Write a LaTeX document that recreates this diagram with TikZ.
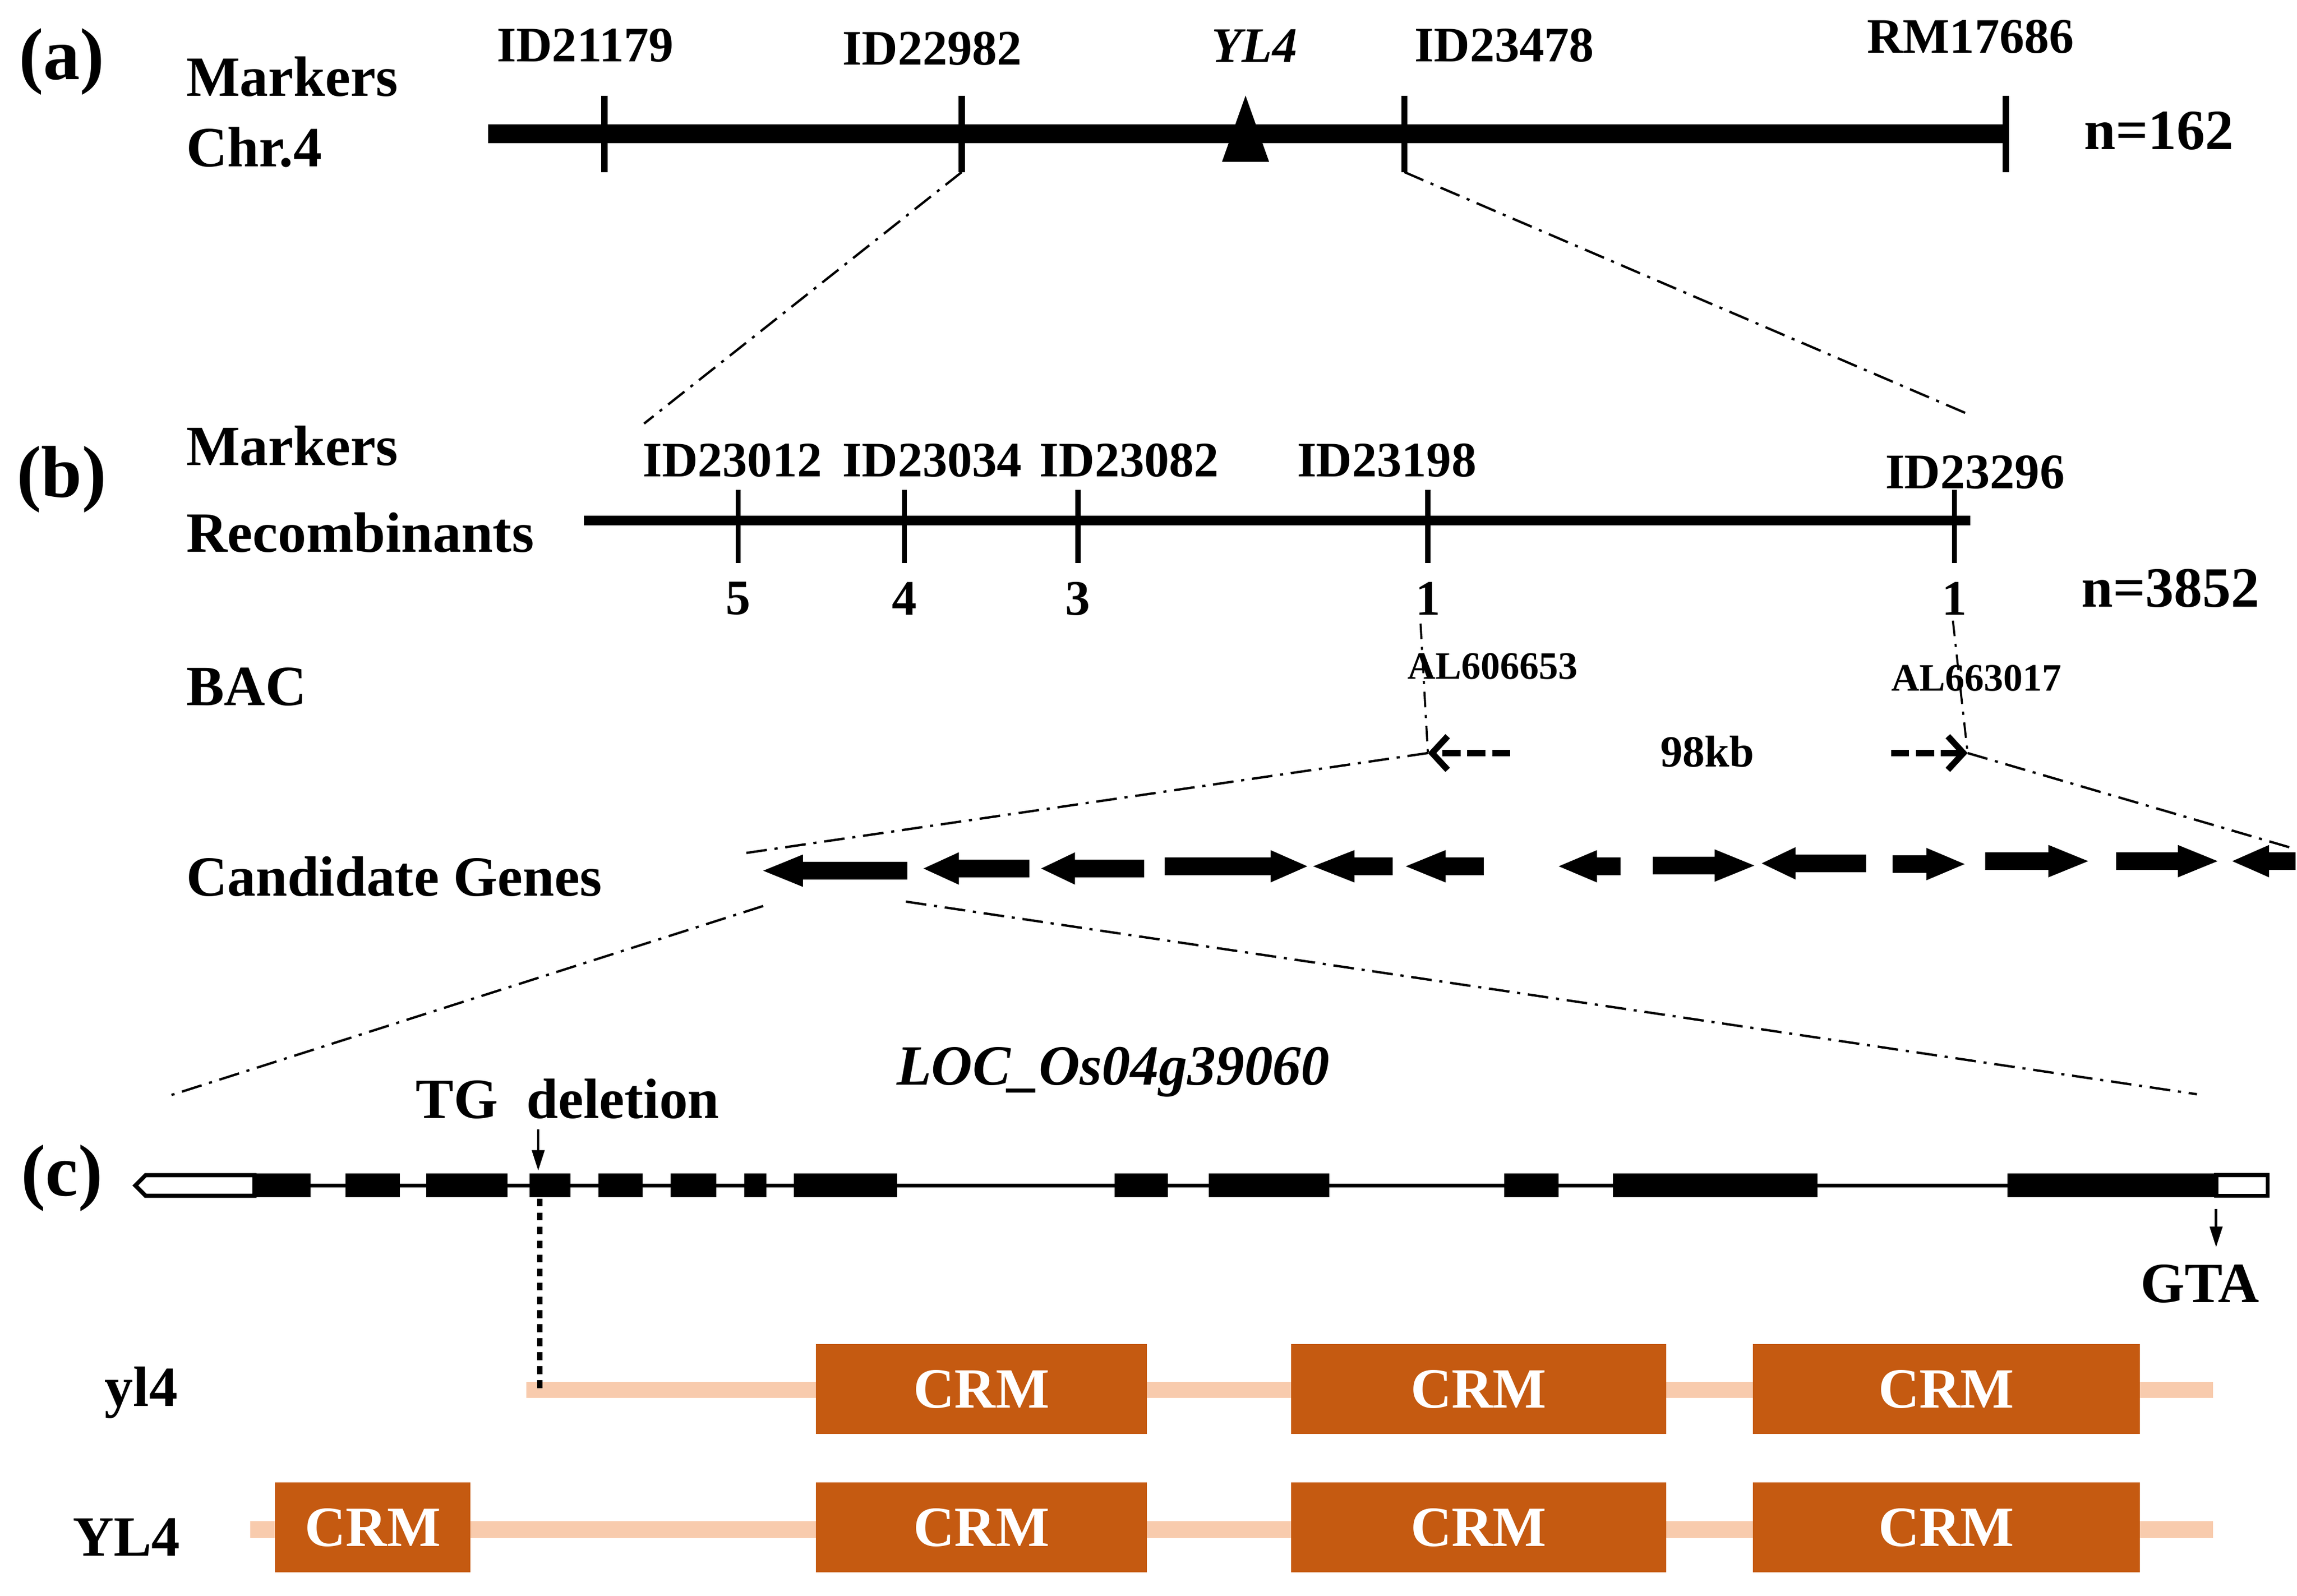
\documentclass[tikz,border=0pt]{standalone}
\usepackage{fontspec}
\setmainfont{Liberation Serif}
\usetikzlibrary{arrows.meta}
\definecolor{crmorange}{HTML}{C55A11}
\definecolor{crmpeach}{HTML}{F8CBAD}
\tikzset{
  txt/.style={inner sep=0pt,font=\fontsize{11}{13}\selectfont\bfseries},
  mrk/.style={inner sep=0pt,font=\fontsize{9.6}{11}\selectfont\bfseries},
  bac/.style={inner sep=0pt,font=\fontsize{7.5}{9}\selectfont\bfseries},
  panel/.style={inner sep=0pt,font=\fontsize{14.2}{16}\selectfont\bfseries},
  zoomline/.style={line width=0.45pt,dash pattern=on 4pt off 1.5pt on 0.6pt off 1.5pt},
  bacline/.style={line width=0.4pt,dash pattern=on 3pt off 1.5pt on 0.6pt off 1.5pt},
  bacarrow/.style={line width=1.3pt,dash pattern=on 3.5pt off 1.3pt,-{Straight Barb[length=3pt,width=6.5pt,line width=1.2pt]}},
  utr/.style={draw=black,fill=white,line width=0.8pt},
  crm/.style={fill=crmorange,text=white,inner sep=0pt,minimum height=0.61cm,font=\fontsize{11}{13}\selectfont\bfseries},
  peach/.style={crmpeach,line width=3.2pt},
  pointer/.style={line width=0.5pt,-{Triangle[length=4pt,width=2.4pt]}}
}
\begin{document}
\begin{tikzpicture}[x=0.01cm,y=-0.01cm]
\useasboundingbox (0,0) rectangle (1562,1085);
% (a) chromosome 4
\node[panel] (pa) at (42,42) {(a)};
\node[txt,anchor=west] (mka) at (126,52) {Markers};
\node[txt,anchor=west] (chr) at (126,100) {Chr.4};
\draw[line width=3.6pt] (332,91) coordinate (chrL) -- (1366,91) coordinate (chrR);
\foreach \x/\lx/\ly/\t [count=\i] in {411/398/31/ID21179, 654/634/33/ID22982, 955/1023/31/ID23478, 1364/1340/25/RM17686}{
  \draw[line width=1.2pt] (\x,65) -- (\x,117) coordinate (ta\i);
  \node[mrk] (ma\i) at (\lx,\ly) {\t};
}
\node[mrk,font=\fontsize{9.6}{11}\selectfont\bfseries\itshape] (yl) at (853,31) {YL4};
\fill (847,65) -- (863,110) -- (831,110) -- cycle;
\node[txt] (na) at (1468,89) {n=162};
\coordinate (zb1) at (438,288);
\coordinate (zb2) at (1337,281);
\draw[zoomline] (ta2) -- (zb1);
\draw[zoomline] (ta3) -- (zb2);
% (b) fine mapping
\node[panel] (pb) at (42,326) {(b)};
\node[txt,anchor=west] (mkb) at (126,303) {Markers};
\node[txt,anchor=west] (rec) at (126,362) {Recombinants};
\draw[line width=1.9pt] (397,354) coordinate (bL) -- (1340,354) coordinate (bR);
\foreach \x/\lx/\ly/\t/\n [count=\i] in {502/498/313/ID23012/5, 615/634/313/ID23034/4, 733/768/313/ID23082/3, 971/943/313/ID23198/1, 1329/1343/321/ID23296/1}{
  \draw[line width=1pt] (\x,333) -- (\x,383) coordinate (tb\i);
  \node[mrk] (mb\i) at (\lx,\ly) {\t};
  \node[mrk] (rb\i) at (\x,407) {\n};
}
\node[txt] (nb) at (1476,400) {n=3852};
\node[txt,anchor=west] (bacl) at (126,467) {BAC};
\node[bac] (al1) at (1015,453) {AL606653};
\node[bac] (al2) at (1344,461) {AL663017};
\node[bac,font=\fontsize{8.6}{10}\selectfont\bfseries] (kb) at (1161,511) {98kb};
\coordinate (bac1) at (971,512);
\coordinate (bac2) at (1338,512);
\draw[bacline] (966,424) -- (bac1);
\draw[bacline] (1328,422) -- (bac2);
\draw[bacarrow] (1027,512) -- (bac1);
\draw[bacarrow] (1286,512) -- (bac2);
\coordinate (cg1) at (507,580);
\coordinate (cg2) at (1560,577);
\draw[zoomline] (bac1) -- (cg1);
\draw[zoomline] (bac2) -- (cg2);
% candidate genes
\node[txt,anchor=west] (cand) at (126,596) {Candidate Genes};
\foreach \a/\b/\c/\y in {617/546/519/592, 700/652/628/590.5, 778/731/708/590.5, 792/864/889/589,
  947/921/893/589, 1009/983/956/589, 1102/1086/1060/589, 1124/1166/1193/588.5, 1269/1221/1198/587,
  1287/1310/1336/587.5, 1350/1393/1420/585.5, 1439/1481/1508/585.5, 1561/1543/1518/585.5}
  \fill (\a,\y-6) -- (\b,\y-6) -- (\b,\y-11) -- (\c,\y) -- (\b,\y+11) -- (\b,\y+6) -- (\a,\y+6) -- cycle;
\coordinate (g1a) at (519,616);
\coordinate (g1b) at (616,613);
\coordinate (gm1) at (115,745);
\coordinate (gm2) at (1494,744);
\draw[zoomline] (g1a) -- (gm1);
\draw[zoomline] (g1b) -- (gm2);
% (c) gene model
\node[panel] (pc) at (42,801) {(c)};
\node[txt,font=\fontsize{11}{13}\selectfont\bfseries\itshape] (loc) at (757,729) {LOC\_Os04g39060};
\node[txt] (tg) at (386,747) {TG\ \ deletion};
\draw[line width=0.7pt] (173,806) -- (1507,806);
\draw[utr] (173,799) -- (99,799) -- (92,806) -- (99,813) -- (173,813) -- cycle;
\draw[utr] (1507,799) rectangle (1542,813);
\foreach \s/\e in {173/211, 235/272, 290/345, 360/388, 407/437, 456/487, 506/521, 540/610,
  758/794, 822/904, 1023/1060, 1097/1236, 1365/1507}
  \fill (\s,798) rectangle (\e,814);
\coordinate (tgtop) at (366,768);
\coordinate (ex4) at (366,796);
\draw[pointer] (tgtop) -- (ex4);
\coordinate (gtatop) at (1507,822);
\coordinate (gtabot) at (1507,848);
\draw[pointer] (gtatop) -- (gtabot);
\node[txt] (gta) at (1496,873) {GTA};
% CRM structure
\coordinate (ylA) at (358,945);
\coordinate (ylB) at (1505,945);
\coordinate (YLA) at (170,1040);
\coordinate (YLB) at (1505,1040);
\draw[peach] (ylA) -- (ylB);
\draw[peach] (YLA) -- (YLB);
\draw[line width=1pt,dash pattern=on 1.5pt off 1.2pt] (367,815) -- (ylA -| 367,0);
\node[txt] (yl4) at (96,947) {yl4};
\node[txt] (YL4) at (86,1045) {YL4};
\foreach \c/\w [count=\i] in {667.5/2.25, 1005.5/2.55, 1323.5/2.63}{
  \node[crm,minimum width=\w cm] (cy\i) at (\c,944.5) {CRM};
  \node[crm,minimum width=\w cm] (cY\i) at (\c,1038.5) {CRM};
}
\node[crm,minimum width=1.33cm] (cY0) at (253.5,1038.5) {CRM};
\end{tikzpicture}
\end{document}
